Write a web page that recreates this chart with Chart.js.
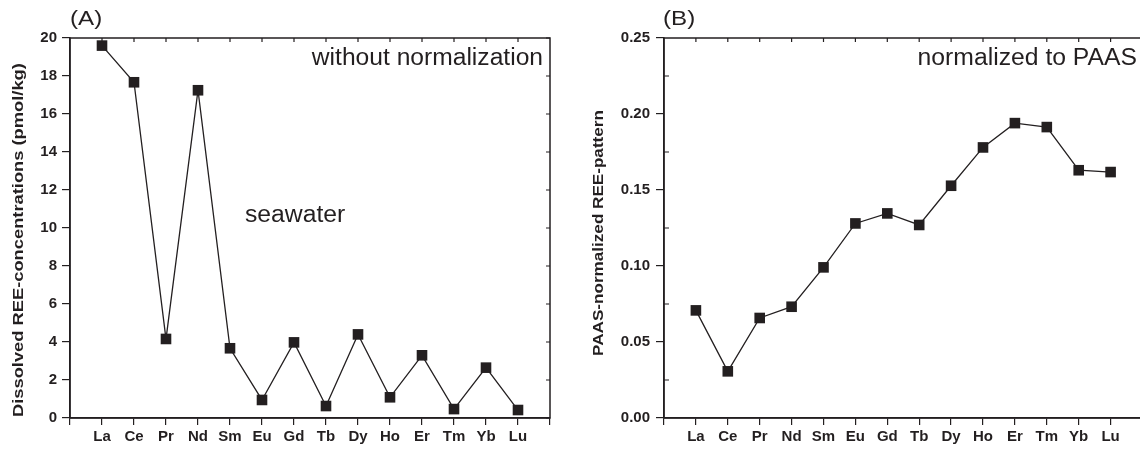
<!DOCTYPE html>
<html>
<head>
<meta charset="utf-8">
<script src="https://cdn.jsdelivr.net/npm/chart.js@4/dist/chart.umd.min.js"></script>
<style>
  html, body { margin: 0; padding: 0; background: #fff; overflow: hidden; width: 1140px; height: 450px; }
  canvas { position: absolute; top: 0; }
  #chartA { left: 0; }
  #chartB { left: 570px; }
</style>
</head>
<body>
<canvas id="chartA" width="570" height="450"></canvas>
<canvas id="chartB" width="580" height="450"></canvas>
<script>
// rare earth elements, in order along the x axis
const elements = ['La', 'Ce', 'Pr', 'Nd', 'Sm', 'Eu', 'Gd', 'Tb', 'Dy', 'Ho', 'Er', 'Tm', 'Yb', 'Lu'];

// (A) dissolved REE, pmol/kg
const seawaterValues = [19.6, 17.67, 4.16, 17.25, 3.67, 0.95, 3.98, 0.63, 4.4, 1.09, 3.3, 0.47, 2.65, 0.42];

// (B) PAAS-normalized
const paasValues = [0.0708, 0.0307, 0.0658, 0.0732, 0.0991, 0.128, 0.1346, 0.127, 0.1528, 0.178, 0.194, 0.1914, 0.163, 0.1618];

const ink = '#231f20';
const fontFamily = '"Liberation Sans", Arial, Helvetica, sans-serif';

// frame, inward ticks on top/right, axis title and the text labels
const framePlugin = {
  id: 'frame',
  afterDraw(chart, args, opts) {
    const ctx = chart.ctx;
    const a = chart.chartArea;
    const xs = chart.scales.x, ys = chart.scales.y;
    ctx.save();
    ctx.strokeStyle = ink;
    ctx.lineWidth = 1.5;
    ctx.strokeRect(a.left, a.top, a.right - a.left, a.bottom - a.top);
    ctx.lineWidth = 1.2;
    ctx.beginPath();
    for (let i = 1; i <= elements.length; i++) {
      const px = xs.getPixelForValue(i);
      ctx.moveTo(px, a.top);
      ctx.lineTo(px, a.top + 4);
    }
    if (!opts.noRight) {
      ys.ticks.forEach(t => {
        const py = ys.getPixelForValue(t.value);
        ctx.moveTo(a.right, py);
        ctx.lineTo(a.right - 4, py);
      });
    }
    (opts.minor || []).forEach(v => {
      const py = ys.getPixelForValue(v);
      ctx.moveTo(a.left, py);
      ctx.lineTo(a.left + 5, py);
    });
    ctx.stroke();

    // y axis title, a bit stretched along its length like the original
    const t = opts.yTitle;
    ctx.save();
    ctx.translate(t.x, t.y);
    ctx.rotate(-Math.PI / 2);
    ctx.scale(t.sx, 1);
    ctx.fillStyle = ink;
    ctx.font = 'bold 15px ' + fontFamily;
    ctx.textAlign = t.align;
    ctx.textBaseline = 'middle';
    ctx.fillText(t.text, 0, 0);
    ctx.restore();

    (opts.labels || []).forEach(l => {
      ctx.save();
      ctx.translate(l.x, l.y);
      ctx.scale(l.sx, 1);
      ctx.fillStyle = ink;
      ctx.font = l.font;
      ctx.textAlign = l.align;
      ctx.textBaseline = 'alphabetic';
      ctx.fillText(l.text, 0, 0);
      ctx.restore();
    });
    ctx.restore();
  }
};

function makeChart(id, values, cfg) {
  const ctx = document.getElementById(id).getContext('2d');
  return new Chart(ctx, {
    type: 'line',
    data: {
      datasets: [{
        data: values.map((v, i) => ({ x: i + 1, y: v })),
        borderColor: ink,
        borderWidth: 1.3,
        backgroundColor: ink,
        pointStyle: 'rect',
        pointRadius: 7.5,
        pointHoverRadius: 7.5,
        pointBorderWidth: 0,
        tension: 0,
        clip: false
      }]
    },
    options: {
      responsive: false,
      animation: false,
      devicePixelRatio: 1,
      layout: { padding: { top: 38, right: cfg.padRight, left: 0, bottom: 0 } },
      plugins: {
        legend: { display: false },
        tooltip: { enabled: false },
        frame: { labels: cfg.labels, minor: cfg.minor, yTitle: cfg.yTitle, noRight: cfg.noRight }
      },
      scales: {
        x: {
          type: 'linear',
          min: 0,
          max: elements.length + 1,
          afterFit: s => { s.height = 32; },
          grid: { drawOnChartArea: false, drawTicks: true, tickLength: 7, color: ink, lineWidth: 1.2 },
          border: { display: true, color: ink, width: 1.5 },
          ticks: {
            stepSize: 1,
            autoSkip: false,
            maxRotation: 0,
            padding: 3,
            color: ink,
            font: { family: fontFamily, size: 15, weight: 'bold' },
            callback: v => elements[v - 1] || ''
          }
        },
        y: {
          min: 0,
          max: cfg.yMax,
          afterFit: s => { s.width = cfg.yWidth; },
          grid: { drawOnChartArea: false, drawTicks: true, tickLength: 8, color: ink, lineWidth: 1.2 },
          border: { display: true, color: ink, width: 1.5 },
          ticks: {
            stepSize: cfg.yStep,
            padding: cfg.tickPad,
            color: ink,
            font: { family: fontFamily, size: 15, weight: 'bold' },
            callback: cfg.yFormat
          }
        }
      }
    },
    plugins: [framePlugin]
  });
}

makeChart('chartA', seawaterValues, {
  padRight: 20,
  yWidth: 70,
  yMax: 20,
  yStep: 2,
  tickPad: 5,
  yFormat: v => v,
  yTitle: { text: 'Dissolved REE-concentrations (pmol/kg)', x: 19, y: 417, align: 'left', sx: 1.22 },
  labels: [
    { text: '(A)', x: 70, y: 25, align: 'left', font: '21px ' + fontFamily, sx: 1.15 },
    { text: 'without normalization', x: 543, y: 65, align: 'right', font: '23px ' + fontFamily, sx: 1.07 },
    { text: 'seawater', x: 245, y: 222, align: 'left', font: '23px ' + fontFamily, sx: 1.075 }
  ]
});

makeChart('chartB', paasValues, {
  padRight: 6,
  yWidth: 94,
  yMax: 0.25,
  yStep: 0.05,
  tickPad: 6,
  yFormat: v => v.toFixed(2),
  yTitle: { text: 'PAAS-normalized REE-pattern', x: 29, y: 233, align: 'center', sx: 1.14 },
  minor: [0.025, 0.075, 0.125, 0.175, 0.225],
  noRight: true,
  labels: [
    { text: '(B)', x: 93, y: 25, align: 'left', font: '21px ' + fontFamily, sx: 1.15 },
    { text: 'normalized to PAAS', x: 567, y: 65, align: 'right', font: '23px ' + fontFamily, sx: 1.075 }
  ]
});
</script>
</body>
</html>
